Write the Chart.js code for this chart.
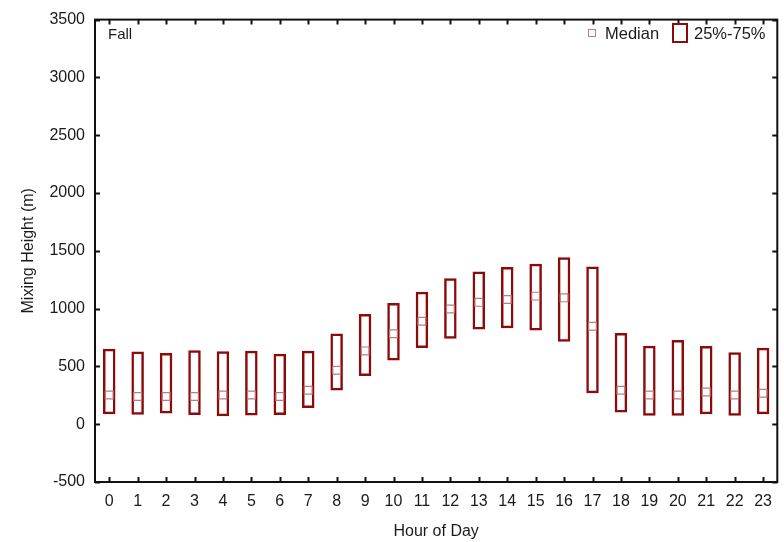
<!DOCTYPE html>
<html>
<head>
<meta charset="utf-8">
<script src="https://cdn.jsdelivr.net/npm/chart.js@4.4.1/dist/chart.umd.min.js"></script>
<style>
	html, body { margin: 0; padding: 0; background: #fff; }
	#wrap { width: 784px; height: 542px; }
</style>
</head>
<body>
<div id="wrap"><canvas id="chart"></canvas></div>
<script>
const hours = ["0", "1", "2", "3", "4", "5", "6", "7", "8", "9", "10", "11",
	"12", "13", "14", "15", "16", "17", "18", "19", "20", "21", "22", "23"];
const q25 = [85, 82, 93, 79, 68, 76, 79, 140, 291, 416, 550, 659,
	739, 819, 831, 810, 713, 268, 102, 73, 73, 85, 73, 85];
const q75 = [653, 628, 616, 639, 630, 636, 610, 636, 785, 953, 1048, 1145,
	1262, 1322, 1359, 1388, 1445, 1365, 788, 679, 728, 676, 622, 662];
const median = [253, 239, 239, 239, 253, 253, 239, 293, 467, 634, 782, 891,
	996, 1054, 1079, 1108, 1093, 848, 293, 253, 253, 279, 253, 268];
const y_ticks = [-500, 0, 500, 1000, 1500, 2000, 2500, 3000, 3500];

const box_color = "#8b0a0a";
const median_color = "#c07a7a";
const text_color = "#1a1a1a";
const font_family = "'Liberation Sans', Arial, sans-serif";

// frame, inward ticks, legend and "Fall" label
const frame_plugin = {
	id: "frame",
	afterDraw(chart) {
		const { ctx, chartArea: a, scales } = chart;
		ctx.save();
		ctx.strokeStyle = "#111";
		ctx.lineWidth = 2;
		ctx.strokeRect(a.left, a.top, a.right - a.left, a.bottom - a.top);
		ctx.beginPath();
		y_ticks.forEach(v => {
			const y = Math.round(scales.y.getPixelForValue(v)) + 0.5;
			ctx.moveTo(a.left, y); ctx.lineTo(a.left + 5, y);
			ctx.moveTo(a.right, y); ctx.lineTo(a.right - 5, y);
		});
		hours.forEach((h, i) => {
			const x = Math.round(scales.x.getPixelForValue(i)) + 0.5;
			ctx.moveTo(x, a.bottom); ctx.lineTo(x, a.bottom - 5);
			ctx.moveTo(x, a.top); ctx.lineTo(x, a.top + 5);
		});
		ctx.stroke();

		ctx.fillStyle = text_color;
		ctx.font = "15px " + font_family;
		ctx.textBaseline = "middle";
		ctx.textAlign = "left";
		ctx.fillText("Fall", a.left + 13, a.top + 15);

		// legend
		ctx.font = "16.5px " + font_family;
		ctx.strokeStyle = median_color;
		ctx.lineWidth = 1;
		ctx.strokeRect(588.5, 29.5, 7, 7);
		ctx.fillText("Median", 605, 34);
		ctx.strokeStyle = box_color;
		ctx.lineWidth = 2;
		ctx.strokeRect(673, 24, 14, 18);
		ctx.fillText("25%-75%", 694, 34);
		ctx.restore();
	}
};

const ctx = document.getElementById("chart");
const data = {
	labels: hours,
	datasets: [{
		type: "bar",
		label: "25%-75%",
		data: q25.map((lo, i) => [lo, q75[i]]),
		backgroundColor: "transparent",
		borderColor: box_color,
		borderWidth: 2.5,
		borderSkipped: false,
		barPercentage: 0.44,
		categoryPercentage: 1,
		order: 2
	}, {
		type: "line",
		label: "Median",
		data: median,
		showLine: false,
		pointStyle: "rect",
		pointRadius: 5.5,
		pointBorderWidth: 1.2,
		pointBorderColor: median_color,
		pointBackgroundColor: "transparent",
		order: 1
	}]
};

const options = {
	responsive: true,
	maintainAspectRatio: false,
	animation: false,
	layout: { padding: { left: 0, right: 5, top: 16, bottom: 0 } },
	scales: {
		x: {
			type: "category",
			offset: true,
			grid: { display: false, drawTicks: false },
			border: { display: false },
			ticks: {
				padding: 10,
				color: text_color,
				font: { size: 16, family: font_family }
			},
			title: {
				display: true,
				text: "Hour of Day",
				color: text_color,
				font: { size: 16, family: font_family },
				padding: { top: 0, bottom: 1 }
			},
			afterFit: scale => { scale.height = 60; }
		},
		y: {
			min: -500,
			max: 3500,
			grid: { display: false, drawTicks: false },
			border: { display: false },
			ticks: {
				stepSize: 500,
				padding: 10,
				color: text_color,
				font: { size: 16, family: font_family },
				callback: value => String(value)
			},
			title: {
				display: true,
				text: "Mixing Height (m)",
				color: text_color,
				font: { size: 16, family: font_family },
				padding: { top: 19, bottom: 0 }
			},
			afterFit: scale => { scale.width = 95; }
		}
	},
	plugins: {
		legend: { display: false },
		tooltip: { enabled: false }
	}
};

new Chart(ctx, {
	type: "bar",
	data: data,
	options: options,
	plugins: [frame_plugin]
});
</script>
</body>
</html>
